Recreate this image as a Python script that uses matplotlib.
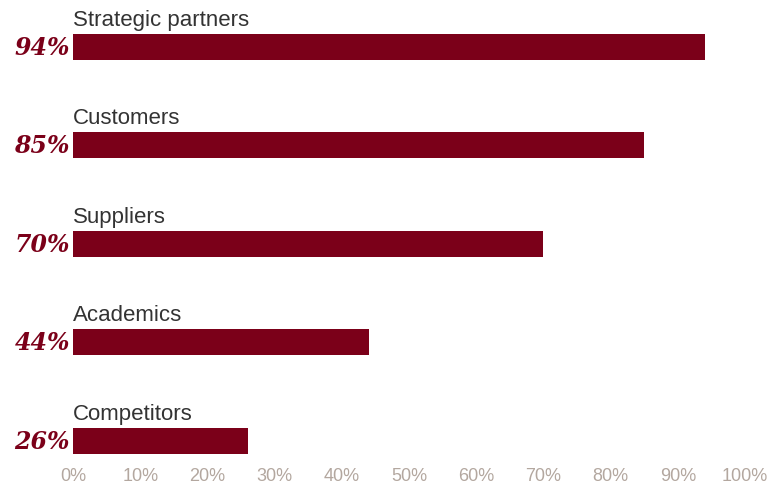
import matplotlib.pyplot as plt
import numpy as np

categories = ['Strategic partners', 'Customers', 'Suppliers', 'Academics', 'Competitors']
values = [94, 85, 70, 44, 26]
ticks = list(range(0, 101, 10))

bar_color = '#7b0019'
fig = plt.figure(figsize=(7.7, 4.85), dpi=100)
ax = fig.add_axes([73/770, 24/485, 672/770, 461/485])

y = np.arange(len(categories))[::-1]
ax.barh(y, values, height=0.264, color=bar_color)

for yi, cat, v in zip(y, categories, values):
    ax.text(0, yi + 0.175, cat, ha='left', va='bottom', fontsize=16,
            family='Liberation Sans', color='#333333')
    ax.text(-0.45, yi, f'{v}%', ha='right', va='center', fontsize=17,
            family='DejaVu Serif', fontweight='bold', fontstyle='italic', color=bar_color)

ax.set_xlim(0, 100)
ax.set_ylim(-0.193, 4.487)
ax.set_xticks(ticks)
ax.set_xticklabels([f'{t}%' for t in ticks], family='Liberation Sans', fontsize=13, color='#b3a79f')
ax.tick_params(axis='x', length=0, pad=5)
ax.set_yticks([])
for s in ax.spines.values():
    s.set_visible(False)
ax.patch.set_alpha(0)

fig.savefig('out.png', dpi=100)
